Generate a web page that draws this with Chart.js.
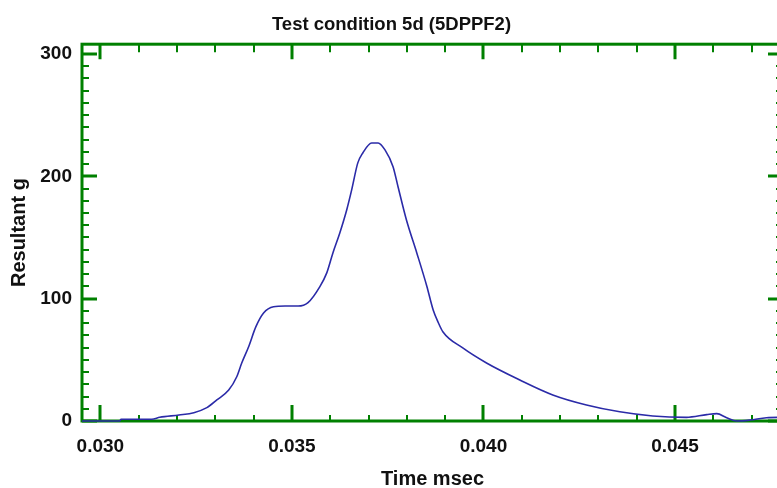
<!DOCTYPE html>
<html>
<head>
<meta charset="utf-8">
<script src="https://cdn.jsdelivr.net/npm/chart.js@4/dist/chart.umd.min.js"></script>
<style>
  html, body { margin: 0; padding: 0; background: #fff; overflow: hidden; }
  #wrap { width: 800px; height: 488px; }
</style>
</head>
<body>
<div id="wrap"><canvas id="resChart" width="800" height="488"></canvas></div>
<script>
// time (msec) and resultant g
const timeValues = [
  0.02952, 0.0305, 0.03054, 0.03134, 0.03155, 0.03205, 0.03244, 0.03278,
  0.03304, 0.03335, 0.03356, 0.03369, 0.03387, 0.03406, 0.03426, 0.03452,
  0.03482, 0.03516, 0.03542, 0.03573, 0.03591, 0.03607, 0.03625, 0.03643,
  0.03656, 0.03672, 0.03685, 0.03708, 0.03725, 0.03743, 0.03764, 0.03777,
  0.03799, 0.03826, 0.03852, 0.03869, 0.03882, 0.03894, 0.03946, 0.04008,
  0.04095, 0.04181, 0.04269, 0.04356, 0.04442, 0.0453, 0.04583, 0.04609,
  0.04635, 0.04661, 0.04696, 0.04739, 0.04782
];
const resultantValues = [
  0, 0, 1.4, 1.4, 3.0, 4.9, 6.8, 10.9,
  17.2, 25.3, 36.2, 47.4, 60.7, 77.1, 88.3, 93.4,
  94.0, 94.0, 96.8, 109.9, 121.1, 137.4, 153.7, 172.5,
  188.9, 211.0, 219.1, 227.3, 227.3, 221.6, 207.9, 191.5,
  164.3, 137.4, 110.4, 90.5, 80.5, 73.0, 59.7, 47.4,
  33.5, 21.3, 13.1, 7.5, 4.1, 3.0, 5.2, 6.0,
  2.7, 0, 0.8, 2.7, 3.0
];
const xTickValues = [0.030, 0.035, 0.040, 0.045];
const yTickValues = [0, 100, 200, 300];

const GREEN = '#008000';
const LINE = '#2b2ba8';

// green frame with inward tick marks, like the original plot
const framePlugin = {
  id: 'frame',
  beforeDatasetsDraw(chart) {
    const { ctx, chartArea: a, scales: { x, y } } = chart;
    ctx.save();
    ctx.strokeStyle = GREEN;
    ctx.lineCap = 'butt';

    // minor ticks
    ctx.lineWidth = 2;
    ctx.beginPath();
    for (let i = 30; i <= 47; i++) {
      const px = Math.round(x.getPixelForValue(i / 1000));
      ctx.moveTo(px, a.bottom); ctx.lineTo(px, a.bottom - 6);
      ctx.moveTo(px, a.top); ctx.lineTo(px, a.top + 8);
    }
    for (let v = 10; v <= 300; v += 10) {
      const py = Math.round(y.getPixelForValue(v));
      ctx.moveTo(a.left, py); ctx.lineTo(a.left + 7, py);
      ctx.moveTo(a.right, py); ctx.lineTo(a.right - 7, py);
    }
    ctx.stroke();

    // major ticks
    ctx.lineWidth = 3;
    ctx.beginPath();
    xTickValues.forEach(v => {
      const px = Math.round(x.getPixelForValue(v));
      ctx.moveTo(px, a.bottom); ctx.lineTo(px, a.bottom - 16);
      ctx.moveTo(px, a.top); ctx.lineTo(px, a.top + 15);
    });
    yTickValues.forEach(v => {
      const py = Math.round(y.getPixelForValue(v));
      ctx.moveTo(a.left, py); ctx.lineTo(a.left + 15, py);
      ctx.moveTo(a.right, py); ctx.lineTo(a.right - 15, py);
    });
    ctx.stroke();

    ctx.lineWidth = 3;
    ctx.strokeRect(a.left, a.top, a.right - a.left, a.bottom - a.top);
    ctx.restore();
  }
};

const ctx = document.getElementById('resChart').getContext('2d');
new Chart(ctx, {
  type: 'line',
  data: {
    datasets: [{
      label: 'Resultant g',
      data: timeValues.map((t, i) => ({ x: t, y: resultantValues[i] })),
      borderColor: LINE,
      borderWidth: 1.6,
      pointRadius: 0,
      fill: false,
      cubicInterpolationMode: 'monotone',
      clip: 4
    }]
  },
  options: {
    responsive: false,
    animation: false,
    layout: { padding: { left: 0, right: 17, top: 0, bottom: 0 } },
    plugins: {
      legend: { display: false },
      tooltip: { enabled: false },
      title: {
        display: true,
        text: 'Test condition 5d (5DPPF2)',
        color: '#111',
        font: { family: 'Liberation Sans, Arial, sans-serif', size: 18.5, weight: 'bold', lineHeight: 1.2 },
        padding: { top: 14, bottom: 8 }
      }
    },
    scales: {
      x: {
        type: 'linear',
        min: 0.02952,
        max: 0.04782,
        grid: { display: false, drawTicks: false },
        border: { display: false },
        afterBuildTicks: s => { s.ticks = xTickValues.map(v => ({ value: v })); },
        afterFit: s => { s.height = 67; },
        ticks: {
          color: '#111',
          padding: 14,
          maxRotation: 0,
          font: { family: 'Liberation Sans, Arial, sans-serif', size: 19, weight: 'bold' },
          callback: v => Number(v).toFixed(3)
        },
        title: {
          display: true,
          text: 'Time msec',
          color: '#111',
          padding: { top: 0, bottom: 0 },
          font: { family: 'Liberation Sans, Arial, sans-serif', size: 20, weight: 'bold', lineHeight: 0.9 }
        }
      },
      y: {
        min: 0,
        max: 308,
        grid: { display: false, drawTicks: false },
        border: { display: false },
        afterBuildTicks: s => { s.ticks = yTickValues.map(v => ({ value: v })); },
        afterFit: s => { s.width = 82; },
        ticks: {
          color: '#111',
          padding: 10,
          font: { family: 'Liberation Sans, Arial, sans-serif', size: 19, weight: 'bold' }
        },
        title: {
          display: true,
          text: 'Resultant g',
          color: '#111',
          padding: { top: 9, bottom: 0 },
          font: { family: 'Liberation Sans, Arial, sans-serif', size: 20, weight: 'bold', lineHeight: 1 }
        }
      }
    }
  },
  plugins: [framePlugin]
});
</script>
</body>
</html>
